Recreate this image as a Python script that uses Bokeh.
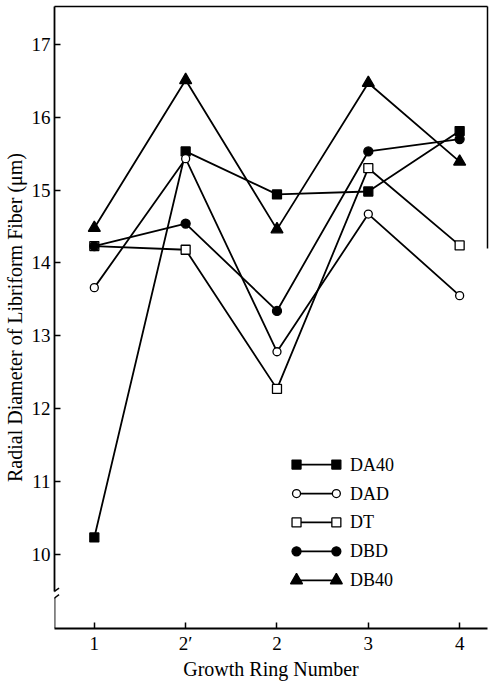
from bokeh.plotting import figure
from bokeh.models import LinearAxis, FixedTicker, Range1d, Arrow
from bokeh.embed import file_html
from bokeh.resources import INLINE
from bokeh.core.properties import value

# ---- data ----
rings = ["1", "2\u2032", "2", "3", "4"]
series_names = ["DA40", "DAD", "DT", "DBD", "DB40"]
da40 = [10.23, 15.53, 14.94, 14.98, 15.81]
dad = [13.66, 15.43, 12.78, 14.67, 13.55]
dt = [14.23, 14.18, 12.27, 15.30, 14.24]
dbd = [14.23, 14.54, 13.34, 15.53, 15.70]
db40 = [14.48, 16.51, 14.46, 16.47, 15.39]
y_ticks = [10, 11, 12, 13, 14, 15, 16, 17]

FONT = "Liberation Serif"
xs = list(range(len(rings)))
X0, X1 = -0.436, 4.305
Y0, Y1 = 8.98, 17.52

p = figure(width=492, height=682, output_backend="svg", toolbar_location=None,
           x_range=Range1d(X0, X1), y_range=Range1d(Y0, Y1),
           min_border_left=52, min_border_right=5, min_border_top=6, min_border_bottom=50)
p.outline_line_color = None
p.grid.visible = False
p.background_fill_color = "white"

# axes
xa = p.xaxis[0]
xa.ticker = FixedTicker(ticks=xs)
xa.major_label_overrides = {i: r for i, r in enumerate(rings)}
xa.axis_label = "Growth Ring Number"
ya = p.yaxis[0]
ya.ticker = FixedTicker(ticks=y_ticks)
ya.axis_label = "Radial Diameter of Libriform Fiber (\u03bcm)"
ya.bounds = (9.49, Y1)
for ax in (xa, ya):
    ax.minor_tick_line_color = None
    ax.major_tick_in = 6
    ax.major_tick_out = 0
    ax.major_tick_line_width = 1.5
    ax.axis_line_width = 1.8
    ax.axis_line_color = "black"
    ax.major_tick_line_color = "black"
    ax.major_label_text_font = FONT
    ax.major_label_text_font_size = "19px"
    ax.major_label_text_color = "black"
    ax.axis_label_text_font = FONT
    ax.axis_label_text_font_size = "20px"
    ax.axis_label_text_font_style = "normal"
    ax.axis_label_text_color = "black"
xa.major_label_standoff = 4
xa.axis_label_standoff = 1
ya.major_label_standoff = 4
ya.axis_label_standoff = 3

top = LinearAxis(ticker=FixedTicker(ticks=[]), major_tick_line_color=None,
                 minor_tick_line_color=None, axis_line_width=1.5)
p.add_layout(top, "above")
right = LinearAxis(ticker=FixedTicker(ticks=[]), major_tick_line_color=None,
                   minor_tick_line_color=None, axis_line_width=1.5, bounds=(14.2, Y1))
p.add_layout(right, "right")

# axis break
p.add_layout(Arrow(end=None, x_start=X0, y_start=Y0, x_end=X0, y_end=9.41,
                   line_width=1.8, line_color="black"))
for yb in (9.40, 9.49):
    p.add_layout(Arrow(end=None, x_start=X0 - 0.05, y_start=yb - 0.045,
                       x_end=X0 + 0.05, y_end=yb + 0.045,
                       line_width=1.4, line_color="black"))

# series
styles = [
    ("square", "black", 9),
    ("circle", "white", 8),
    ("square", "white", 9),
    ("circle", "black", 9),
    ("triangle", "black", 12),
]
data = [da40, dad, dt, dbd, db40]
for ys, (mk, fill, sz) in zip(data, styles):
    p.line(xs, ys, line_color="black", line_width=1.8)
    p.scatter(xs, ys, marker=mk, size=sz, fill_color=fill, line_color="black", line_width=1.3)

# legend (drawn manually)
LX0, LX1, LTX = 2.214, 2.65, 2.80
LY, DY = 11.23, 0.397
for i, (name, (mk, fill, sz)) in enumerate(zip(series_names, styles)):
    y = LY - DY * i
    p.line([LX0, LX1], [y, y], line_color="black", line_width=1.8)
    p.scatter([LX0, LX1], [y, y], marker=mk, size=sz, fill_color=fill,
              line_color="black", line_width=1.3)
    p.text([LTX], [y], text=[name], text_font=value(FONT), text_font_size="18px",
           text_baseline="middle", text_align="left", text_color="black")

open("out.html", "w").write(file_html(p, INLINE))
